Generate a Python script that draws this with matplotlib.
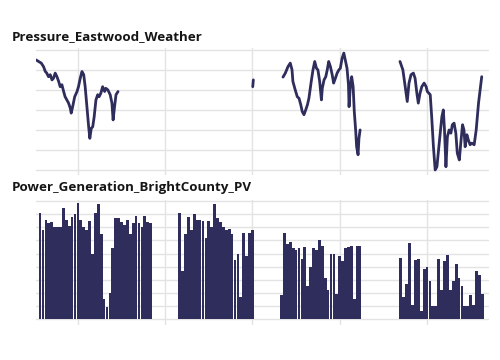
import matplotlib
matplotlib.use("Agg")
import matplotlib.pyplot as plt

# ---- Pressure (hPa) segments: day index, value ----
p1_day = [15.6,16.5,17.4,18.2,18.8,19.3,19.9,20.5,21.1,21.6,
          22.2,22.8,23.4,23.9,24.5,25.1,25.6,26.2,26.8,27.4,
          27.7,28.2,28.9,29.7,30.2,30.8,31.4,32.0,32.5,33.1,
          33.7,34.1,34.6,35.1,35.6,36.2,36.8,37.3,37.9,38.5,
          39.2,39.6,40.3,41.1,41.7,42.1,42.6,43.1,43.8]
p1_val = [1017.5,1017.1,1016.7,1015.8,1014.6,1014.2,1013.3,1013.8,1012.5,1012.9,
          1014.2,1013.3,1012.1,1010.8,1011.3,1009.6,1008.3,1007.5,1006.7,1005.4,
          1004.2,1005.8,1008.3,1009.6,1010.8,1012.9,1014.6,1013.8,1010.8,1005.8,
          1000.8,997.9,1000.4,1000.8,1003.3,1007.5,1008.8,1008.3,1009.2,1010.8,
          1009.6,1010.4,1010.0,1008.8,1006.7,1002.5,1005.8,1008.8,1009.6]

p2_day = [90.1, 90.3]
p2_val = [1010.8, 1012.5]

p3_day = [100.5,101.3,102.2,103.0,103.6,103.9,104.7,105.4,106.0,106.6,
          107.1,107.7,108.3,108.9,109.4,110.2,110.8,111.4,112.0,112.5,
          113.1,113.7,114.0,114.6,115.2,115.7,116.2,116.8,117.4,117.9,
          118.5,119.1,119.7,120.2,120.8,121.4,121.9,122.5,123.0,123.2,
          123.6,124.1,124.6,125.0,125.5,125.8,126.3,126.6,127.0]
p3_val = [1013.2,1014.2,1015.8,1016.7,1015.0,1012.1,1010.0,1008.3,1007.9,1006.3,
          1004.6,1003.8,1005.0,1006.3,1007.9,1012.1,1015.0,1017.1,1015.4,1015.0,
          1012.1,1007.5,1010.4,1012.5,1013.3,1015.0,1017.1,1015.8,1013.8,1011.7,
          1012.9,1014.2,1015.0,1015.4,1017.9,1019.2,1017.5,1015.4,1011.3,1005.8,
          1010.4,1013.3,1010.8,1004.6,999.6,995.8,993.8,997.9,1000.0]

p4_day = [140.7,141.7,142.5,143.2,143.8,144.5,145.3,145.9,146.5,147.0,
          147.6,148.2,149.0,149.7,150.1,151.1,151.6,152.2,152.8,153.4,
          154.3,155.1,155.6,156.0,156.5,157.0,157.6,158.2,158.7,159.3,
          159.9,160.4,161.1,161.6,162.2,162.7,163.1,163.7,164.2,164.8,
          165.4,166.2,166.9,167.7,168.8]
p4_val = [1017.1,1015.0,1010.8,1007.1,1011.7,1013.8,1014.2,1012.9,1009.2,1006.7,
          1009.2,1010.8,1011.7,1010.8,1009.6,1008.8,1003.3,995.8,990.0,990.8,
          997.5,1003.3,1005.0,1000.0,990.8,998.3,1000.0,999.2,1001.3,1001.7,
          999.2,994.2,992.5,996.7,1001.3,1000.0,995.8,998.8,997.5,996.3,
          996.7,996.3,1000.0,1006.7,1013.3]

# ---- PV daily peak generation ----
pv_a_days = list(range(17, 56))
pv_a_vals = [8.1,6.8,7.6,7.3,7.4,7.0,7.0,7.0,8.5,7.6,
             7.1,7.8,8.0,8.9,7.6,7.0,6.8,7.5,5.0,8.1,
             8.8,6.5,1.5,0.9,2.0,5.4,7.7,7.7,7.4,7.2,
             7.6,6.5,7.3,7.9,7.3,7.0,7.9,7.4,7.3]
pv_b_days = list(range(65, 91))
pv_b_vals = [8.1,3.7,6.5,7.8,6.8,8.0,7.6,7.6,7.5,6.2,
             7.5,7.0,8.8,7.7,7.4,7.0,6.8,6.9,6.5,4.5,
             5.0,1.7,6.6,4.8,6.6,6.8]
pv_c_days = list(range(100, 128))
pv_c_vals = [1.8,6.6,5.7,5.9,5.4,5.3,5.4,4.6,5.5,2.5,
             4.0,5.4,5.3,6.0,5.6,3.1,2.2,5.0,5.0,1.9,
             4.8,4.4,5.4,5.5,5.6,1.5,5.6,5.6]
pv_d_days = list(range(141, 170))
pv_d_vals = [4.7,1.7,2.7,5.8,1.1,4.5,4.6,0.6,3.8,4.0,
             2.9,1.0,1.0,4.6,2.2,4.4,4.9,2.2,2.9,4.2,
             3.1,2.5,1.0,1.0,1.8,1.1,3.7,3.4,1.9]

titles = ["Pressure_Eastwood_Weather", "Power_Generation_BrightCounty_PV"]
vgrid_days = [30, 60, 90, 120, 150]
p_ticks = [990, 995, 1000, 1005, 1010, 1015, 1020]
pv_ticks = list(range(0, 10))

navy = "#2e2d5c"
gridc = "#e3e3e3"

fig = plt.figure(figsize=(5, 3.6), dpi=100)
ax1 = fig.add_axes([0.072, 0.514, 0.906, 0.353])
ax2 = fig.add_axes([0.072, 0.097, 0.906, 0.347])

for ax in (ax1, ax2):
    ax.set_xlim(15.6, 171.3)
    ax.set_xticks(vgrid_days)
    for s in ax.spines.values():
        s.set_visible(False)
    ax.tick_params(length=0, labelbottom=False, labelleft=False)
    ax.grid(True, color=gridc, lw=1.0)
    ax.set_axisbelow(True)

ax1.set_ylim(988.75, 1020.5)
ax1.set_yticks(p_ticks)
for d, v in [(p1_day, p1_val), (p2_day, p2_val), (p3_day, p3_val), (p4_day, p4_val)]:
    ax1.plot(d, v, color=navy, lw=2.0, solid_joinstyle="round", solid_capstyle="round")

ax2.set_ylim(-0.46, 9.08)
ax2.set_yticks(pv_ticks)
for d, v in [(pv_a_days, pv_a_vals), (pv_b_days, pv_b_vals),
             (pv_c_days, pv_c_vals), (pv_d_days, pv_d_vals)]:
    ax2.bar(d, v, width=0.95, color=navy, linewidth=0)

fig.text(12/500, 1-37/360, titles[0], fontsize=9.6, fontweight="bold",
         family=["Open Sans", "DejaVu Sans"], va="center", ha="left", color="#151515")
fig.text(12/500, 1-188/360, titles[1], fontsize=9.6, fontweight="bold",
         family=["Open Sans", "DejaVu Sans"], va="center", ha="left", color="#151515")

fig.savefig("out.png", dpi=100)
